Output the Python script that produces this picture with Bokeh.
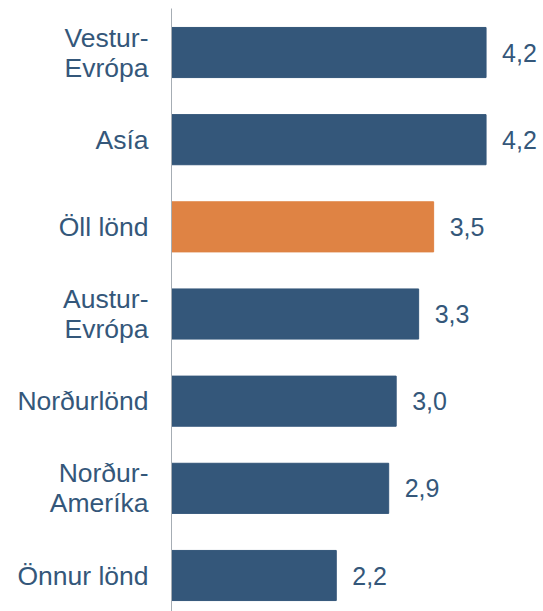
from bokeh.plotting import figure
from bokeh.models import Range1d, FixedTicker, ColumnDataSource
from bokeh.embed import file_html
from bokeh.resources import INLINE
from bokeh.core.properties import value

categories = ["Vestur-\nEvrópa", "Asía", "Öll lönd", "Austur-\nEvrópa", "Norðurlönd", "Norður-\nAmeríka", "Önnur lönd"]
values = [4.2, 4.2, 3.5, 3.3, 3.0, 2.9, 2.2]
labels = ["4,2", "4,2", "3,5", "3,3", "3,0", "2,9", "2,2"]
colors = ["#34577A", "#34577A", "#DF8344", "#34577A", "#34577A", "#34577A", "#34577A"]

ypos = list(range(len(categories)))
src = ColumnDataSource(dict(y=ypos, v=values, lab=labels, c=colors))

p = figure(width=543, height=611, output_backend="svg", toolbar_location=None,
           x_range=Range1d(0, 4.967), y_range=Range1d(6.413, -0.505),
           min_border_left=171, min_border_right=0, min_border_top=8, min_border_bottom=0)
p.hbar(y="y", left=0, right="v", height=0.575, color="c", source=src)
p.text(x="v", y="y", text="lab", source=src, x_offset=16, text_baseline="middle",
       text_align="left", text_font=value("Liberation Sans"), text_font_size="25px",
       text_color="#34577A")

p.xaxis.visible = False
p.xgrid.visible = False
p.ygrid.visible = False
p.outline_line_color = None
p.background_fill_color = "white"
p.border_fill_color = "white"

ya = p.yaxis[0]
ya.ticker = FixedTicker(ticks=ypos)
ya.major_label_overrides = {i: c for i, c in enumerate(categories)}
ya.major_tick_line_color = None
ya.major_tick_out = 0
ya.major_tick_in = 0
ya.minor_tick_line_color = None
ya.minor_tick_out = 0
ya.axis_line_color = "#A6ADB4"
ya.axis_line_width = 1
ya.major_label_standoff = 23
ya.major_label_text_font = "Liberation Sans"
ya.major_label_text_font_size = "26.5px"
ya.major_label_text_color = "#34577A"
ya.major_label_text_align = "right"
ya.major_label_text_line_height = 1.0

open("out.html", "w").write(file_html(p, INLINE))
